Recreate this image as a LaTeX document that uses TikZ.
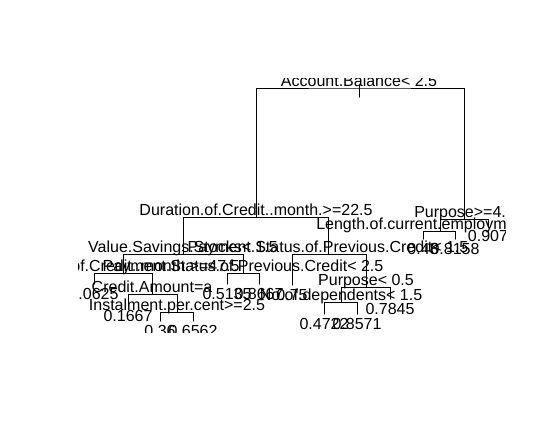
\documentclass[tikz,border=0pt]{standalone}
\usepackage{fontspec}
\setmainfont{Liberation Sans}

\begin{document}
\begin{tikzpicture}[
    x=0.75pt, y=-0.75pt,
    font=\fontsize{12pt}{14pt}\selectfont,
    branch/.style={draw=black, line width=0.75pt, line cap=round},
    splitlab/.style={anchor=base, inner sep=0pt, yshift=1.5pt},
    leaflab/.style={anchor=base, inner sep=0pt, yshift=-11.25pt}
]
    \useasboundingbox (0,0) rectangle (545,430);

    \begin{scope}
    % Zone de tracé (le texte qui dépasse est coupé)
    \clip (78.7,78.7) rectangle (505.7,332.2);

    % Points des noeuds internes
    \coordinate (root) at (359,88);
    \coordinate (dur22) at (256,217);
    \coordinate (purp4) at (464,219);
    \coordinate (lenemp) at (440,231);
    \coordinate (savst) at (183,254);
    \coordinate (pay15) at (328,254);
    \coordinate (dur47) at (123,273);
    \coordinate (pay25) at (243,273);
    \coordinate (amount) at (152,294);
    \coordinate (instal) at (177,312);
    \coordinate (purp05) at (366,287);
    \coordinate (depend) at (341,302);

    % Points des feuilles
    \coordinate (lf0907) at (488,226);
    \coordinate (lf048) at (423,239);
    \coordinate (lf8158) at (455,239);
    \coordinate (lf0625) at (94,284);
    \coordinate (lf1667) at (128,306);
    \coordinate (lf036) at (160,321);
    \coordinate (lf6562) at (193,321);
    \coordinate (lf5135) at (227,284);
    \coordinate (lf8667) at (259,284);
    \coordinate (lf075) at (292,285);
    \coordinate (lf7845) at (390,299);
    \coordinate (lf4722) at (324,314);
    \coordinate (lf8571) at (357,314);

    % Branches
    \draw[branch] ([yshift=2.25pt]root) -- ([yshift=-6.75pt]root);
    \draw[branch] (dur22) |- (root) -| (purp4);
    \draw[branch] (savst) |- (dur22) -| (pay15);
    \draw[branch] (lenemp) |- (purp4) -| (lf0907);
    \draw[branch] (lf048) |- (lenemp) -| (lf8158);
    \draw[branch] (dur47) |- (savst) -| (pay25);
    \draw[branch] (lf0625) |- (dur47) -| (amount);
    \draw[branch] (lf1667) |- (amount) -| (instal);
    \draw[branch] (lf036) |- (instal) -| (lf6562);
    \draw[branch] (lf5135) |- (pay25) -| (lf8667);
    \draw[branch] (lf075) |- (pay15) -| (purp05);
    \draw[branch] (depend) |- (purp05) -| (lf7845);
    \draw[branch] (lf4722) |- (depend) -| (lf8571);

    % Règles de découpage
    \node[splitlab] (rootlab) at (root) {Account.Balance< 2.5};
    \node[splitlab] (dur22lab) at (dur22) {Duration.of.Credit..month.>=22.5};
    \node[splitlab, anchor=base west] (purp4lab) at (414,219) {Purpose>=4.};
    \node[splitlab, anchor=base west] (lenemplab) at (316,231) {Length.of.current.employm};
    \node[splitlab] (savstlab) at (savst) {Value.Savings.Stocks< 1.5};
    \node[splitlab] (pay15lab) at (pay15) {Payment.Status.of.Previous.Credit< 1.5};
    \node[splitlab] (dur47lab) at (dur47) {Duration.of.Credit..month.>=47.5};
    \node[splitlab] (pay25lab) at (pay25) {Payment.Status.of.Previous.Credit< 2.5};
    \node[splitlab] (amountlab) at (amount) {Credit.Amount=a};
    \node[splitlab] (installab) at (instal) {Instalment.per.cent>=2.5};
    \node[splitlab] (purp05lab) at (purp05) {Purpose< 0.5};
    \node[splitlab] (dependlab) at (depend) {No.of.dependents< 1.5};

    % Valeurs des feuilles
    \node[leaflab] (v0907) at (lf0907) {0.907};
    \node[leaflab] (v048) at (lf048) {0.48};
    \node[leaflab] (v8158) at (lf8158) {0.8158};
    \node[leaflab] (v0625) at (lf0625) {0.0625};
    \node[leaflab] (v1667) at (lf1667) {0.1667};
    \node[leaflab] (v036) at (lf036) {0.36};
    \node[leaflab] (v6562) at (lf6562) {0.6562};
    \node[leaflab] (v5135) at (lf5135) {0.5135};
    \node[leaflab] (v8667) at (lf8667) {0.8667};
    \node[leaflab] (v075) at (lf075) {0.75};
    \node[leaflab] (v7845) at (lf7845) {0.7845};
    \node[leaflab] (v4722) at (lf4722) {0.4722};
    \node[leaflab] (v8571) at (lf8571) {0.8571};
    \end{scope}

\end{tikzpicture}
\end{document}
